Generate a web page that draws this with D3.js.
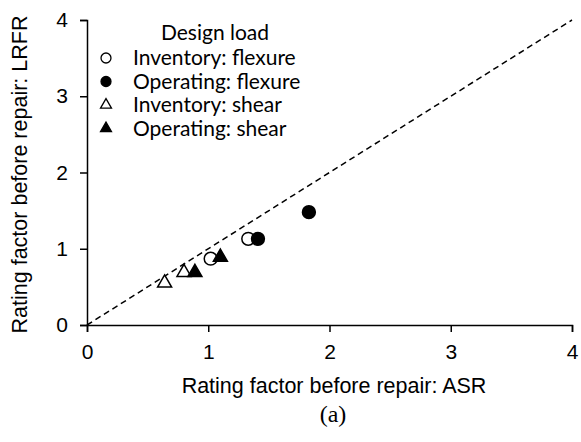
<!DOCTYPE html>
<html>
<head>
<meta charset="utf-8">
<script src="https://cdn.jsdelivr.net/npm/d3@7"></script>
<style>
  body { margin: 0; background: #fff; }
</style>
</head>
<body>
<div id="chart"></div>
<script>
  // values
  const invFlexure = [[1.02, 0.87], [1.33, 1.13]];
  const opFlexure = [[1.41, 1.13], [1.83, 1.48]];
  const invShear = [[0.64, 0.55], [0.80, 0.69]];
  const opShear = [[0.89, 0.69], [1.10, 0.89]];
  const ticks = [0, 1, 2, 3, 4];
  const seriesNames = ["Inventory: flexure", "Operating: flexure", "Inventory: shear", "Operating: shear"];

  const W = 581, H = 442;
  const margin = { top: 20, right: 9, bottom: 117, left: 87 };
  const width = W - margin.left - margin.right;
  const height = H - margin.top - margin.bottom;

  const svg = d3.select("#chart").append("svg")
    .attr("width", W)
    .attr("height", H);
  const g = svg.append("g")
    .attr("transform", "translate(" + margin.left + "," + margin.top + ")");

  const x = d3.scaleLinear().domain([0, 4]).range([0, width]);
  const y = d3.scaleLinear().domain([0, 4]).range([height, 0]);

  const axisFont = "'Liberation Sans', Arial, sans-serif";

  // 1:1 line
  g.append("line")
    .attr("x1", x(0)).attr("y1", y(0))
    .attr("x2", x(4)).attr("y2", y(4))
    .attr("stroke", "#000")
    .attr("stroke-width", 1.5)
    .attr("stroke-dasharray", "6,4");

  const xAxis = g.append("g")
    .attr("transform", "translate(0," + height + ")")
    .call(d3.axisBottom(x).tickValues(ticks).tickSize(7).tickFormat(d3.format("d")));
  const yAxis = g.append("g")
    .call(d3.axisLeft(y).tickValues(ticks).tickSize(7).tickFormat(d3.format("d")));

  [xAxis, yAxis].forEach(function(a) {
    a.select(".domain").attr("stroke-width", 1.5);
    a.selectAll(".tick line").attr("stroke-width", 1.5);
    a.selectAll("text")
      .style("font-family", axisFont)
      .style("font-size", "21px")
      .attr("fill", "#000");
  });
  xAxis.selectAll("text").attr("y", 19);
  yAxis.selectAll("text").attr("x", -19);

  svg.append("text")
    .attr("x", 334)
    .attr("y", 393)
    .attr("text-anchor", "middle")
    .style("font-family", axisFont)
    .style("font-size", "21.5px")
    .text("Rating factor before repair: ASR");

  svg.append("text")
    .attr("transform", "translate(27," + (margin.top + height / 2 + 2) + ") rotate(-90)")
    .attr("text-anchor", "middle")
    .style("font-family", axisFont)
    .style("font-size", "21.5px")
    .text("Rating factor before repair: LRFR");

  svg.append("text")
    .attr("x", 333)
    .attr("y", 422)
    .attr("text-anchor", "middle")
    .style("font-family", "'Liberation Serif', 'Times New Roman', serif")
    .style("font-size", "24px")
    .text("(a)");

  const circle = d3.symbol().type(d3.symbolCircle);
  const triangle = d3.symbol().type(d3.symbolTriangle);

  const groups = [
    { data: invFlexure, sym: circle, fill: "#fff" },
    { data: opFlexure, sym: circle, fill: "#000" },
    { data: invShear, sym: triangle, fill: "#fff" },
    { data: opShear, sym: triangle, fill: "#000" }
  ];

  groups.forEach(function(s) {
    g.selectAll(null)
      .data(s.data)
      .enter().append("path")
      .attr("d", s.sym.size(s.sym === circle ? 130 : 85)())
      .attr("transform", function(d) {
        return "translate(" + x(d[0]) + "," + y(d[1]) + ")";
      })
      .attr("fill", s.fill)
      .attr("stroke", "#000")
      .attr("stroke-width", 1.5);
  });

  // legend
  const legFont = "Lato, 'Open Sans', sans-serif";
  const legend = svg.append("g").attr("transform", "translate(106,58)");
  legend.append("text")
    .attr("x", 109)
    .attr("y", -18)
    .attr("text-anchor", "middle")
    .style("font-family", legFont)
    .style("font-size", "21px")
    .text("Design load");

  const item = legend.selectAll(".legend")
    .data(groups)
    .enter().append("g")
    .attr("class", "legend")
    .attr("transform", function(d, i) { return "translate(0," + (i * 23.5) + ")"; });
  item.append("path")
    .attr("d", function(d) { return d.sym.size(d.sym === circle ? 78 : 52)(); })
    .attr("fill", function(d) { return d.fill; })
    .attr("stroke", "#000")
    .attr("stroke-width", 1.3);
  item.append("text")
    .attr("x", 27)
    .attr("dy", "0.35em")
    .style("font-family", legFont)
    .style("font-size", "21px")
    .text(function(d, i) { return seriesNames[i]; });
</script>
</body>
</html>
